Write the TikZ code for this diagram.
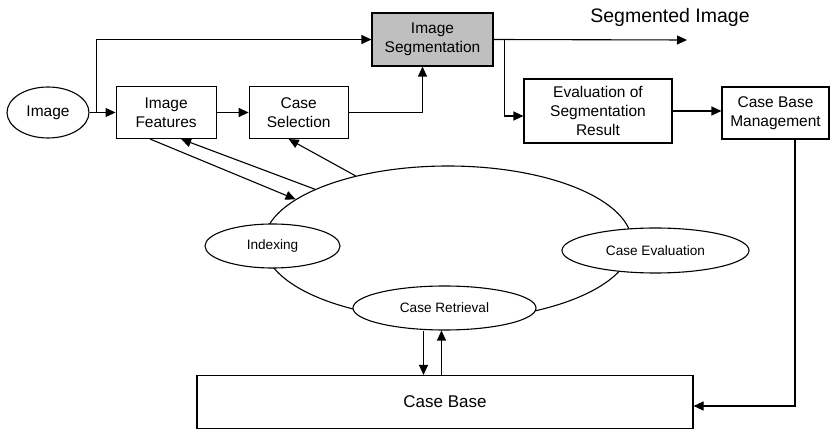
\documentclass[tikz,border=0pt]{standalone}
\usepackage{fontspec}
\setmainfont{Liberation Sans}
\usetikzlibrary{shapes, arrows.meta, positioning, backgrounds}

\begin{document}
\begin{tikzpicture} [
    x=1pt, y=-1pt,
    process/.style={rectangle, draw=black, line width=1.1pt, fill=white, inner sep=0pt, minimum width=100pt, minimum height=52pt, align=center, font=\fontsize{15.5}{19}\selectfont},
    segbox/.style={process, fill=black!25, minimum width=121pt, minimum height=53pt},
    oval/.style={ellipse, draw=black, line width=1.1pt, fill=white, inner sep=0pt, minimum height=44pt, font=\fontsize{13.6}{16}\selectfont},
    arrow/.style={-{Triangle[length=10pt, width=9pt]}, line width=1.1pt}
]
\useasboundingbox (0,0) rectangle (839,430);

% Define all nodes first (foreground)
\node[oval, minimum width=82pt, minimum height=51pt, font=\fontsize{15.5}{19}\selectfont] (image) at (48,112.5) {Image};
\node[process, right=26pt of image] (features) {Image\\Features};
\node[process, minimum width=99pt, right=32pt of features] (cselect) {Case\\Selection};
\node[segbox] (seg) at (432.5,39.5) {Image\\Segmentation};
\node[process, minimum width=148pt, minimum height=64pt] (eval) at (598,111) {Evaluation of\\Segmentation\\Result};
\node[process, minimum width=107pt] (mgmt) at (775.5,113) {Case Base\\Management};
\node[font=\fontsize{19.5}{22}\selectfont] (segout) at (670,17) {Segmented Image};
\coordinate (outend) at (687,40);

\node[process, minimum width=496pt, minimum height=53pt, font=\fontsize{17}{20}\selectfont] (casebase) at (445,402) {Case Base};

\node[ellipse, draw=black, line width=1.1pt, minimum width=368pt, minimum height=154pt] (cycle) at (448,243) {};
\node[oval, minimum width=135pt] (indexing) at (272.5,246) {Indexing\hspace{30pt}};
\node[oval, minimum width=187pt, minimum height=45pt] (caseeval) at (655.5,250.5) {Case Evaluation};
\node[oval, minimum width=183pt] (retrieval) at (444.5,308) {Case Retrieval\hspace{8pt}};

\coordinate (fork) at ([xshift=7pt]image.east);
\coordinate (fork2) at ([xshift=11pt]seg.east);

% Draw all arrows in background
\begin{scope}[on background layer]
    \draw[arrow] (image) -- (features);
    \draw[arrow] (fork) |- (seg.west);
    \draw[arrow] (features) -- (cselect);
    \draw[arrow] (cselect.east) -| ([xshift=-10pt]seg.south);
    \draw[arrow] (seg.east) -- (outend);
    \draw[arrow] (fork2) |- ([yshift=-5pt]eval.west);
    \draw[arrow] (eval.east) -- (eval.east -| mgmt.west);
    \draw[arrow] ([xshift=19.5pt]mgmt.south) |- ([yshift=-4pt]casebase.east);
    \draw[arrow] ([xshift=-16pt]features.south) -- (cycle.164.6);
    \draw[arrow] (cycle.158.6) -- ([xshift=15pt]features.south);
    \draw[arrow] (cycle.144) -- ([xshift=-10pt]cselect.south);
    \draw[arrow] ([xshift=-21pt]retrieval.south) -- ([xshift=-21pt]retrieval.south |- casebase.north);
    \draw[arrow] ([xshift=-3pt]retrieval.south |- casebase.north) -- ([xshift=-3pt]retrieval.south);
\end{scope}

\end{tikzpicture}
\end{document}
